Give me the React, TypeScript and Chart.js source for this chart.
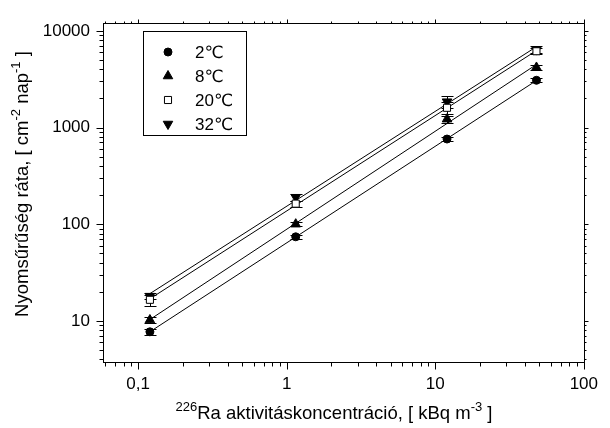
import { useEffect, useRef } from "react";
import { Chart, registerables } from "chart.js";

Chart.register(...registerables);

// ---- data ----
const concentrations = [0.12, 1.15, 12, 48];
const seriesLabels = ["2℃", "8℃", "20℃", "32℃"];
const rate2C = [7.7, 74, 760, 3080];
const rate8C = [10.2, 100, 1220, 4180];
const rate20C = [16.5, 163, 1600, 6150];
const rate32C = [18, 190, 1850, 6400];
const err2C = [0.5, 4, 30, 150];
const err8C = [0.8, 5, 110, 250];
const err20C = [2.2, 12, 220, 450];
const err32C = [1.2, 15, 250, 500];
const xTickValues = [0.1, 1, 10, 100];
const xTickLabels = ["0,1", "1", "10", "100"];
const yTickValues = [10, 100, 1000, 10000];
const yTickLabels = ["10", "100", "1000", "10000"];
const xTitleParts = [
  { t: "226", sup: true },
  { t: "Ra aktivitáskoncentráció, [ kBq m" },
  { t: "-3", sup: true },
  { t: " ]" },
];
const yTitleParts = [
  { t: "Nyomsűrűség ráta, [ cm" },
  { t: "-2", sup: true },
  { t: " nap" },
  { t: "-1", sup: true },
  { t: " ]" },
];

const FONT = "'Liberation Sans', Arial, 'DejaVu Sans', sans-serif";

function fitPowerLine(xs: number[], ys: number[]) {
  const lx = xs.map(Math.log10);
  const ly = ys.map(Math.log10);
  const n = xs.length;
  const mx = lx.reduce((a, b) => a + b, 0) / n;
  const my = ly.reduce((a, b) => a + b, 0) / n;
  let sxy = 0, sxx = 0;
  for (let i = 0; i < n; i++) {
    sxy += (lx[i] - mx) * (ly[i] - my);
    sxx += (lx[i] - mx) * (lx[i] - mx);
  }
  const m = sxy / sxx;
  const b = my - m * mx;
  return [xs[0], xs[n - 1]].map((x) => ({ x, y: Math.pow(10, b + m * Math.log10(x)) }));
}

function drawRich(ctx: CanvasRenderingContext2D, parts: any[], cx: number, cy: number, size: number) {
  const supSize = Math.round(size * 0.7);
  const widths = parts.map((p) => {
    ctx.font = `${p.sup ? supSize : size}px ${FONT}`;
    return ctx.measureText(p.t).width;
  });
  const total = widths.reduce((a, b) => a + b, 0);
  let x = cx - total / 2;
  ctx.textAlign = "left";
  ctx.textBaseline = "alphabetic";
  const base = cy + size * 0.36;
  parts.forEach((p, i) => {
    ctx.font = `${p.sup ? supSize : size}px ${FONT}`;
    ctx.fillText(p.t, x, p.sup ? base - size * 0.4 : base);
    x += widths[i];
  });
}

function drawMarker(ctx: CanvasRenderingContext2D, style: string, r: number, rot: number, x: number, y: number) {
  ctx.beginPath();
  if (style === "circle") {
    ctx.arc(x, y, r, 0, Math.PI * 2);
  } else if (style === "rect") {
    const s = r * Math.SQRT1_2;
    ctx.rect(x - s, y - s, 2 * s, 2 * s);
  } else if (style === "triangle") {
    const ang = (rot * Math.PI) / 180;
    for (let k = 0; k < 3; k++) {
      const a = ang + k * ((2 * Math.PI) / 3);
      const px = x + Math.sin(a) * r;
      const py = y - Math.cos(a) * r;
      if (k === 0) ctx.moveTo(px, py);
      else ctx.lineTo(px, py);
    }
    ctx.closePath();
  }
  ctx.fill();
  ctx.stroke();
}

const errorBarPlugin = {
  id: "errorBars",
  beforeDatasetsDraw(chart: any) {
    const { ctx, scales } = chart;
    const xs = scales.x, ys = scales.y;
    ctx.save();
    ctx.strokeStyle = "#000";
    ctx.lineWidth = 1;
    chart.data.datasets.forEach((ds: any) => {
      if (!ds.errors) return;
      ds.data.forEach((p: any, i: number) => {
        const e = ds.errors[i];
        const px = Math.round(xs.getPixelForValue(p.x)) + 0.5;
        const yt = Math.round(ys.getPixelForValue(p.y + e)) + 0.5;
        const yb = Math.round(ys.getPixelForValue(p.y - e)) + 0.5;
        ctx.beginPath();
        ctx.moveTo(px, yt);
        ctx.lineTo(px, yb);
        ctx.moveTo(px - 6, yt);
        ctx.lineTo(px + 6, yt);
        ctx.moveTo(px - 6, yb);
        ctx.lineTo(px + 6, yb);
        ctx.stroke();
      });
    });
    ctx.restore();
  },
};

function logTicks(min: number, max: number) {
  const out: { v: number; major: boolean }[] = [];
  for (let d = Math.floor(Math.log10(min)); d <= Math.ceil(Math.log10(max)); d++) {
    for (let k = 1; k <= 9; k++) {
      const v = k * Math.pow(10, d);
      if (v >= min * 0.9999 && v <= max * 1.0001) out.push({ v, major: k === 1 });
    }
  }
  return out;
}

const framePlugin = {
  id: "frameTicks",
  afterDraw(chart: any) {
    const { ctx, chartArea: a, scales } = chart;
    const xs = scales.x, ys = scales.y;
    ctx.save();
    ctx.strokeStyle = "#000";
    ctx.lineWidth = 1;
    const L = Math.round(a.left) + 0.5, R = Math.round(a.right) + 0.5;
    const T = Math.round(a.top) + 0.5, B = Math.round(a.bottom) + 0.5;
    ctx.strokeRect(L, T, R - L, B - T);
    ctx.beginPath();
    logTicks(xs.min, xs.max).forEach(({ v, major }) => {
      const px = Math.round(xs.getPixelForValue(v)) + 0.5;
      ctx.moveTo(px, B);
      ctx.lineTo(px, B + (major ? 7 : 4));
      ctx.moveTo(px, T);
      ctx.lineTo(px, T - (major ? 4 : 2));
    });
    logTicks(ys.min, ys.max).forEach(({ v, major }) => {
      const py = Math.round(ys.getPixelForValue(v)) + 0.5;
      ctx.moveTo(L, py);
      ctx.lineTo(L - (major ? 7 : 4), py);
      ctx.moveTo(R, py);
      ctx.lineTo(R + (major ? 4 : 2), py);
    });
    ctx.stroke();

    // axis titles
    ctx.fillStyle = "#000";
    drawRich(ctx, xTitleParts, 334, 412, 18.5);
    ctx.save();
    ctx.translate(21, 184);
    ctx.rotate(-Math.PI / 2);
    drawRich(ctx, yTitleParts, 0, 0, 18.5);
    ctx.restore();
    ctx.restore();
  },
};

export default function App() {
  const ref = useRef<HTMLCanvasElement | null>(null);
  useEffect(() => {
    if (!ref.current) return;
    const rates = [rate2C, rate8C, rate20C, rate32C];
    const errs = [err2C, err8C, err20C, err32C];
    const styles = [
      { pointStyle: "circle", radius: 4, bg: "#000", rot: 0 },
      { pointStyle: "triangle", radius: 5.5, bg: "#000", rot: 0 },
      { pointStyle: "rect", radius: 5, bg: "#fff", rot: 0 },
      { pointStyle: "triangle", radius: 5.5, bg: "#000", rot: 180 },
    ];
    const markerSets = rates.map((r, i) => ({
      label: seriesLabels[i],
      data: concentrations.map((x, j) => ({ x, y: r[j] })),
      errors: errs[i],
      showLine: false,
      pointStyle: styles[i].pointStyle,
      pointRadius: styles[i].radius,
      pointRotation: styles[i].rot,
      backgroundColor: styles[i].bg,
      borderColor: "#000",
      pointBorderWidth: 1,
      order: 0,
    }));
    const lineSets = rates.map((r, i) => ({
      label: seriesLabels[i] + " fit",
      data: fitPowerLine(concentrations, r),
      showLine: true,
      pointRadius: 0,
      borderColor: "#000",
      borderWidth: 1,
      order: 1,
    }));

    const legendPlugin = {
      id: "boxLegend",
      afterDraw(chart: any) {
        const { ctx } = chart;
        ctx.save();
        ctx.strokeStyle = "#000";
        ctx.lineWidth = 1;
        ctx.strokeRect(143.5, 31.5, 103, 104);
        markerSets.forEach((ds, row) => {
          const cy = 52 + row * 24;
          ctx.fillStyle = ds.backgroundColor;
          ctx.strokeStyle = "#000";
          drawMarker(ctx, ds.pointStyle, ds.pointRadius, ds.pointRotation, 168, cy);
          ctx.font = `17px ${FONT}`;
          ctx.textAlign = "left";
          ctx.textBaseline = "middle";
          ctx.fillStyle = "#000";
          ctx.fillText(ds.label, 195, cy + 1);
        });
        ctx.restore();
      },
    };

    const chart = new Chart(ref.current, {
      type: "scatter",
      data: { datasets: [...markerSets, ...lineSets] as any },
      options: {
        animation: false,
        responsive: false,
        devicePixelRatio: 1,
        layout: { padding: { top: 15, right: 17, left: 0, bottom: 0 } },
        plugins: { legend: { display: false }, tooltip: { enabled: false } },
        scales: {
          x: {
            type: "logarithmic",
            min: 0.058,
            max: 100,
            grid: { display: false, drawTicks: false },
            border: { display: false },
            afterBuildTicks: (s: any) => {
              s.ticks = xTickValues.map((v) => ({ value: v }));
            },
            afterFit: (s: any) => {
              s.height = 66;
            },
            ticks: {
              padding: 12,
              color: "#000",
              font: { family: FONT, size: 17 },
              autoSkip: false,
              maxRotation: 0,
              callback: (v: any) => {
                const i = xTickValues.findIndex((t) => Math.abs(t - v) / t < 1e-6);
                return i >= 0 ? xTickLabels[i] : "";
              },
            },
          },
          y: {
            type: "logarithmic",
            min: 3.75,
            max: 12000,
            grid: { display: false, drawTicks: false },
            border: { display: false },
            afterBuildTicks: (s: any) => {
              s.ticks = yTickValues.map((v) => ({ value: v }));
            },
            afterFit: (s: any) => {
              s.width = 103;
            },
            ticks: {
              padding: 13,
              color: "#000",
              font: { family: FONT, size: 17 },
              autoSkip: false,
              callback: (v: any) => {
                const i = yTickValues.findIndex((t) => Math.abs(t - v) / t < 1e-6);
                return i >= 0 ? yTickLabels[i] : "";
              },
            },
          },
        },
      },
      plugins: [errorBarPlugin, framePlugin, legendPlugin],
    });
    return () => chart.destroy();
  }, []);

  return (
    <div style={{ position: "fixed", left: 0, top: 0, width: 610, height: 428, background: "#fff" }}>
      <canvas ref={ref} width={610} height={428} />
    </div>
  );
}
